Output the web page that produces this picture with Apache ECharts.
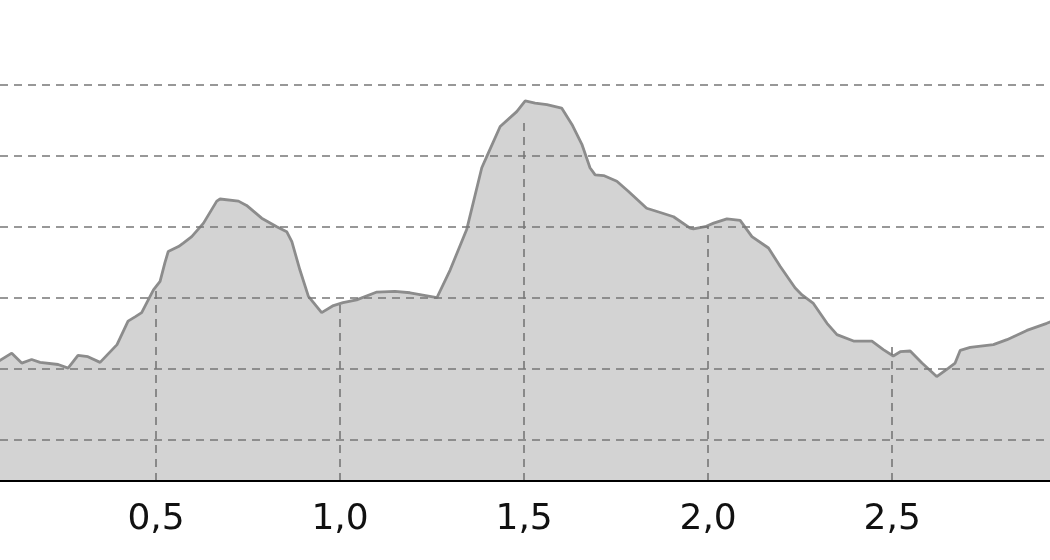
<!DOCTYPE html>
<html lang="en">
<head>
    <meta charset="UTF-8">
    <title>Profile</title>
    <script src="https://cdn.jsdelivr.net/npm/echarts@6/dist/echarts.min.js"></script>
    <style>
        html, body { margin: 0; padding: 0; background: #fff; }
    </style>
</head>
<body>
<div id="main" style="height:560px;width:1050px"></div>

<script type="text/javascript">
    // distance along the track (km) and height
    var dist = [0.07, 0.108, 0.135, 0.162, 0.185, 0.234, 0.261, 0.288, 0.315, 0.348,
        0.394, 0.424, 0.443, 0.461, 0.475, 0.493, 0.511, 0.524, 0.533, 0.561,
        0.574, 0.597, 0.629, 0.665, 0.674, 0.724, 0.746, 0.787, 0.828, 0.855,
        0.869, 0.891, 0.914, 0.950, 0.982, 1.008, 1.045, 1.100, 1.149, 1.190,
        1.263, 1.299, 1.344, 1.385, 1.403, 1.435, 1.480, 1.503, 1.530, 1.562,
        1.602, 1.630, 1.657, 1.679, 1.693, 1.716, 1.752, 1.783, 1.833, 1.870,
        1.906, 1.951, 1.960, 1.992, 2.015, 2.051, 2.087, 2.119, 2.164, 2.196,
        2.236, 2.255, 2.286, 2.323, 2.350, 2.395, 2.445, 2.476, 2.503, 2.522,
        2.549, 2.581, 2.621, 2.653, 2.671, 2.685, 2.712, 2.775, 2.812, 2.866,
        2.920, 2.935];
    var elev = [21.0, 22.2, 20.8, 21.3, 20.9, 20.6, 20.1, 21.9, 21.7, 20.9,
        23.4, 26.7, 27.3, 27.9, 29.3, 31.1, 32.3, 34.9, 36.5, 37.2,
        37.7, 38.6, 40.5, 43.6, 43.9, 43.6, 43.0, 41.2, 40.0, 39.3,
        37.9, 33.9, 30.2, 27.9, 28.9, 29.3, 29.7, 30.8, 30.9, 30.7,
        30.0, 33.9, 39.6, 48.3, 50.4, 54.1, 56.2, 57.7, 57.4, 57.2,
        56.7, 54.4, 51.6, 48.3, 47.3, 47.2, 46.4, 45.0, 42.6, 42.0,
        41.4, 39.8, 39.7, 40.0, 40.5, 41.1, 40.9, 38.6, 37.0, 34.4,
        31.4, 30.4, 29.2, 26.4, 24.8, 23.9, 23.9, 22.7, 21.8, 22.4,
        22.5, 20.8, 18.9, 20.1, 20.8, 22.6, 23.0, 23.4, 24.1, 25.4,
        26.4, 26.7];

    var kmTicks = [0.5, 1.0, 1.5, 2.0, 2.5];
    var kmGridTops = [31.1, 29.3, 54.6, 40.1, 23.5];
    var heightGrid = [10, 20, 30, 40, 50, 60];
    var yMin = 4.2;
    var yMax = 69.1;

    var points = [];
    for (var i = 0; i < dist.length; i++) {
        points.push([dist[i], elev[i]]);
    }

    var gridLines = [];
    for (var i = 0; i < heightGrid.length; i++) {
        gridLines.push({yAxis: heightGrid[i]});
    }
    for (var i = 0; i < kmTicks.length; i++) {
        gridLines.push([{coord: [kmTicks[i], yMin]}, {coord: [kmTicks[i], kmGridTops[i]]}]);
    }

    var myChart = echarts.init(document.getElementById('main'));
    myChart.setOption({
        animation: false,
        backgroundColor: '#fff',
        grid: {
            left: -28,
            right: -63,
            top: 20,
            bottom: 79,
            containLabel: false,
            outerBoundsMode: 'none'
        },
        xAxis: {
            type: 'value',
            min: 0,
            max: 3.1,
            interval: 0.5,
            z: 10,
            axisLine: {show: true, lineStyle: {color: '#000', width: 2}},
            axisTick: {show: false},
            splitLine: {show: false},
            axisLabel: {
                showMinLabel: true,
                showMaxLabel: false,
                hideOverlap: false,
                margin: 21,
                color: '#111',
                fontSize: 36,
                fontFamily: 'DejaVu Sans',
                formatter: function (v) { return v.toFixed(1).replace('.', ','); }
            }
        },
        yAxis: {
            type: 'value',
            min: yMin,
            max: yMax,
            show: false
        },
        series: [{
            type: 'line',
            data: points,
            symbol: 'none',
            lineStyle: {color: '#8c8c8c', width: 2.8},
            areaStyle: {color: '#d3d3d3', opacity: 1, origin: 'start'},
            markLine: {
                silent: true,
                symbol: 'none',
                label: {show: false},
                lineStyle: {color: '#777', width: 1.6, type: [8, 6]},
                data: gridLines
            }
        }]
    });
</script>
</body>
</html>
